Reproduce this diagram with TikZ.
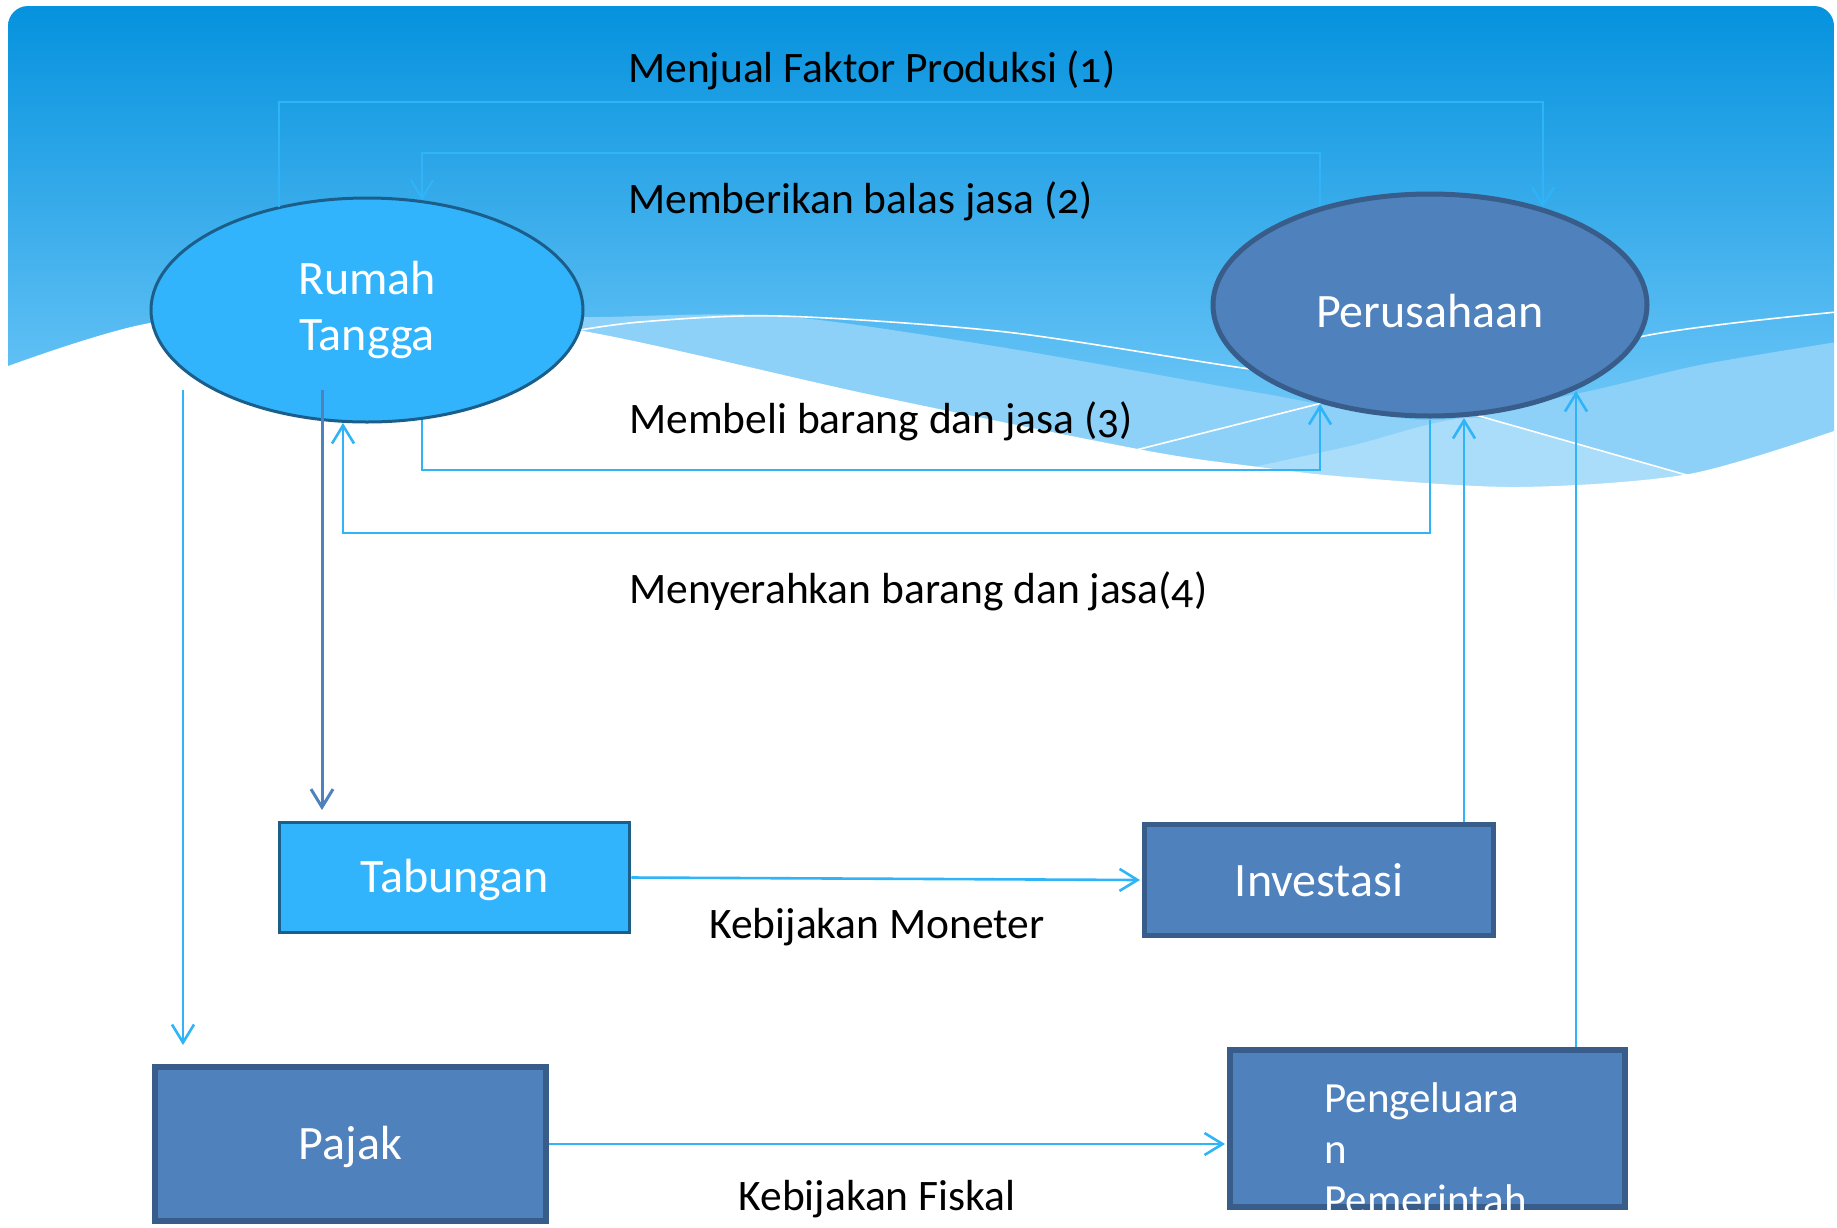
\documentclass[tikz,border=0pt]{standalone}
\usepackage{fontspec}
\setmainfont{Carlito}[Numbers=OldStyle]
\usetikzlibrary{arrows.meta,shapes.geometric}

\definecolor{bgtop}{RGB}{5,146,222}
\definecolor{bgbot}{RGB}{140,214,255}
\definecolor{bandA}{RGB}{141,209,248}
\definecolor{bandB}{RGB}{169,221,250}
\definecolor{lightfill}{RGB}{50,180,253}
\definecolor{lightborder}{RGB}{28,94,138}
\definecolor{darkfill}{RGB}{79,129,189}
\definecolor{darkborder}{RGB}{56,93,138}
\definecolor{flowc}{RGB}{47,180,248}

\tikzset{
  lbl/.style={font=\fontsize{43.5}{52}\selectfont, text=black, inner sep=0pt},
  nodetxt/.style={font=\fontsize{48}{56}\selectfont, text=white, align=center, inner sep=0pt},
  ellnode/.style={nodetxt, ellipse},
  boxnode/.style={nodetxt, rectangle},
  barb/.style={-{Straight Barb[length=18pt,width=22pt]}},
  flowline/.style={draw=flowc, line width=2.6pt, barb},
  flowthin/.style={draw=flowc, line width=2pt, barb},
  darkline/.style={draw=darkfill, line width=3pt, barb},
  wline/.style={draw=white, line width=1.6pt},
}

\begin{document}
\begin{tikzpicture}[x=1pt,y=-1pt]
\useasboundingbox (0,0) rectangle (1837,1227);
\fill[white] (0,0) rectangle (1837,1227);

% slide background
\begin{scope}
  \clip[rounded corners=20pt] (8,6) rectangle (1834,1300);
  \shade[top color=bgtop, bottom color=bgbot] (8,6) rectangle (1834,540);
  \fill[bandA] plot[smooth] coordinates {(520,318) (600,317) (780,316) (1000,347) (1260,393) (1430,420) (1580,393) (1700,365) (1837,342)}
     -- (1837,600) -- (520,600) -- cycle;
  \fill[bandB] plot[smooth] coordinates {(1230,472) (1350,446) (1470,418) (1580,445) (1700,480)}
     -- (1700,600) -- (1230,600) -- cycle;
  \fill[white] plot[smooth] coordinates {(0,369) (150,323) (360,306) (583,331) (872,395) (1143,450) (1251,466) (1348,477) (1518,487) (1689,474) (1837,430)}
     -- (1837,1300) -- (0,1300) -- cycle;
  \draw[wline] plot[smooth] coordinates {(556,334) (640,322) (780,316) (1006,332) (1250,369) (1440,392) (1644,336) (1837,312)};
  \draw[wline] (1136,450) -- (1330,401);
  \draw[wline] (1465,412) -- (1690,476);
\end{scope}

% main nodes
\node[ellnode, fill=lightfill, draw=lightborder, line width=3pt, minimum width=432pt, minimum height=224pt] (rt) at (367,310) {Rumah\\Tangga};
\node[ellnode, fill=darkfill, draw=darkborder, line width=5pt, minimum width=434pt, minimum height=222pt, text height=44pt, text depth=0pt] (pr) at (1430,305) {Perusahaan};
\node[boxnode, fill=lightfill, draw=lightborder, line width=3.5pt, minimum width=350pt, minimum height=110pt, text height=39pt, text depth=10pt] (tab) at (454.5,877.5) {Tabungan};
\node[boxnode, fill=darkfill, draw=darkborder, line width=5pt, minimum width=349pt, minimum height=111pt] (inv) at (1319,880) {Investasi};
\node[boxnode, fill=darkfill, draw=darkborder, line width=6pt, minimum width=391pt, minimum height=154pt, text height=41pt, text depth=10pt] (pajak) at (350.5,1144) {Pajak};
\node[boxnode, fill=darkfill, draw=darkborder, line width=6pt, minimum width=395pt, minimum height=157pt] (peng) at (1427.5,1128.5) {};
\node[font=\fontsize{43}{51}\selectfont, text=white, align=left, inner sep=0pt, anchor=north west] (pengtxt) at (1324,1082) {Pengeluara\\n\\Pemerintah};

% connector end points on the ellipse borders
\coordinate (rt1) at (279,207);
\coordinate (k1) at (1543,102);
\coordinate (pr1) at (1543,207);
\coordinate (pr2) at (1320,206);
\coordinate (k2) at (422,153);
\coordinate (rt2) at (422,200);
\coordinate (rt3) at (422,420);
\coordinate (k3) at (1320,470);
\coordinate (pr3) at (1320,404);
\coordinate (pr4) at (1430,420);
\coordinate (k4) at (343,533);
\coordinate (rt4) at (343,423);
\coordinate (rtd) at (322,390);
\coordinate (tabtop) at (322,810);
\coordinate (rtp) at (183,390);
\coordinate (pjtop) at (183,1045);
\coordinate (pr5) at (1464,418);
\coordinate (pr6) at (1576,391);

% connectors
\draw[flowthin] (rt1) |- (k1) -- (pr1);
\draw[flowthin] (pr2) |- (k2) -- (rt2);
\draw[flowline] (rt3) |- (k3) -- (pr3);
\draw[flowline] (pr4) |- (k4) -- (rt4);
\draw[darkline] (rtd) -- (tabtop);
\draw[flowline] (rtp) -- (pjtop);
\draw[flowline] (tab.east) -- ([xshift=-2pt]inv.west);
\draw[flowline] (pajak.east) -- ([xshift=-2pt]pajak.east -| peng.west);
\draw[flowline] (inv.north -| pr5) -- (pr5);
\draw[flowline] (peng.north -| pr6) -- (pr6);

% labels
\node[lbl, anchor=base west] (l1) at (628,82) {Menjual Faktor Produksi (1)};
\node[lbl, anchor=base west] (l2) at (628,213) {Memberikan balas jasa (2)};
\node[lbl, anchor=base west] (l3) at (629,433) {Membeli barang dan jasa (3)};
\node[lbl, anchor=base west] (l4) at (629,603) {Menyerahkan barang dan jasa(4)};
\node[lbl, anchor=base] (l5) at (877,938) {Kebijakan Moneter};
\node[lbl, anchor=base] (l6) at (877,1210) {Kebijakan Fiskal};
\end{tikzpicture}
\end{document}
